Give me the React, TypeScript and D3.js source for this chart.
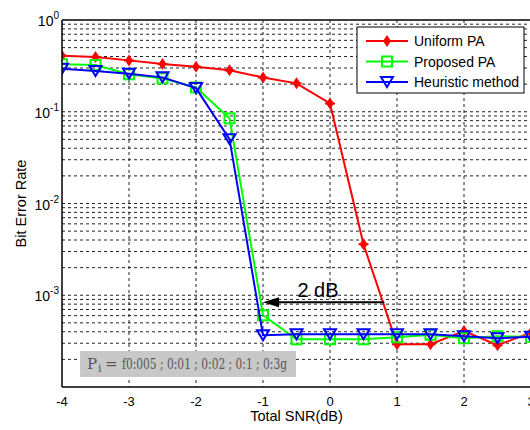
import React from 'react';
import * as d3 from 'd3';

// SNR points (dB)
const snr = [-4, -3.5, -3, -2.5, -2, -1.5, -1, -0.5, 0, 0.5, 1, 1.5, 2, 2.5, 3];

// BER values
const uniformPA = [0.408, 0.395, 0.363, 0.331, 0.31, 0.283, 0.236, 0.204, 0.123, 0.0036,
  0.000292, 0.000292, 0.000408, 0.000285, 0.000392];
const proposedPA = [0.329, 0.323, 0.256, 0.231, 0.184, 0.0847, 0.000605, 0.000331, 0.000331,
  0.000331, 0.000348, 0.000371, 0.00034, 0.000357, 0.000352];
const heuristic = [0.294, 0.278, 0.26, 0.237, 0.181, 0.0503, 0.000366, 0.000376, 0.000376,
  0.000376, 0.000376, 0.000376, 0.000357, 0.00034, 0.000353];

const xTicks = [-4, -3, -2, -1, 0, 1, 2, 3];
const yDecades = [0, -1, -2, -3];
const seriesNames = ['Uniform PA', 'Proposed PA', 'Heuristic method'];
const boxText = 'f0:005 ; 0:01 ; 0:02 ; 0:1 ; 0:3g';

const W = 530;
const H = 430;
const m = { left: 62, right: 531, top: 20, bottom: 387 };

const x = d3.scaleLinear().domain([-4, 3]).range([m.left, m.right]);
const y = d3.scaleLog().domain([1e-4, 1]).range([m.bottom, m.top]);

const line = d3.line<number>()
  .x((_, i) => x(snr[i]))
  .y(d => y(d));

function Marker({ kind, cx, cy, color }: { kind: string; cx: number; cy: number; color: string }) {
  if (kind === 'diamond') {
    return (
      <g>
        <path d={`M${cx},${cy - 6}L${cx + 4},${cy}L${cx},${cy + 6}L${cx - 4},${cy}Z`} fill={color} />
        <line x1={cx - 5} x2={cx + 5} y1={cy} y2={cy} stroke={color} strokeWidth={2} />
      </g>
    );
  }
  if (kind === 'square') {
    return <rect x={cx - 5} y={cy - 5} width={10} height={10} fill="none" stroke={color} strokeWidth={2} />;
  }
  return (
    <path d={`M${cx - 6},${cy - 5}L${cx + 6},${cy - 5}L${cx},${cy + 5}Z`} fill="none" stroke={color} strokeWidth={2} />
  );
}

export default function App() {
  const series = [
    { name: seriesNames[0], data: uniformPA, color: '#ff0000', kind: 'diamond' },
    { name: seriesNames[1], data: proposedPA, color: '#00ff00', kind: 'square' },
    { name: seriesNames[2], data: heuristic, color: '#0000ff', kind: 'tri' },
  ];

  // minor + major gridlines
  const yGrid: number[] = [];
  for (let e = -4; e < 0; e++) {
    for (let k = 1; k <= 9; k++) yGrid.push(k * Math.pow(10, e));
  }

  const arrowY = y(8.4e-4);
  const arrowX1 = x(0.81);
  const arrowX2 = x(-1);

  return (
    <div>
      <style>{`body{margin:0}`}</style>
      <svg width={W} height={H} style={{ display: 'block', background: '#fff' }}
        fontFamily="Arial, 'Liberation Sans', sans-serif">
        <defs>
          <clipPath id="plot">
            <rect x={m.left} y={m.top} width={m.right - m.left} height={m.bottom - m.top} />
          </clipPath>
        </defs>

        {/* grid */}
        <g stroke="#222" strokeWidth={1} strokeDasharray="3,3">
          {yGrid.slice(1).map((v, i) => (
            <line key={'h' + i} x1={m.left} x2={m.right} y1={y(v)} y2={y(v)} />
          ))}
          {xTicks.slice(1).map(t => (
            <line key={'v' + t} x1={x(t)} x2={x(t)} y1={m.top} y2={m.bottom} />
          ))}
        </g>

        {/* series */}
        <g clipPath="url(#plot)">
          {series.map(s => (
            <g key={s.name}>
              <path d={line(s.data) || ''} fill="none" stroke={s.color} strokeWidth={2} />
              {s.data.map((v, i) => (
                <Marker key={i} kind={s.kind} cx={x(snr[i])} cy={y(v)} color={s.color} />
              ))}
            </g>
          ))}
        </g>

        {/* axes */}
        <g stroke="#000" strokeWidth={1.5} fill="none">
          <line x1={m.left} x2={m.left} y1={m.top} y2={m.bottom} />
          <line x1={m.left} x2={m.right} y1={m.bottom} y2={m.bottom} />
          <line x1={m.left} x2={m.right} y1={m.top} y2={m.top} />
        </g>

        {/* x tick labels */}
        <g fontSize={13} textAnchor="middle" fill="#000">
          {xTicks.map(t => (
            <text key={t} x={x(t)} y={406}>{t}</text>
          ))}
        </g>

        {/* y tick labels */}
        <g fontSize={14} textAnchor="end" fill="#000">
          {yDecades.map(e => (
            <text key={e} x={59} y={y(Math.pow(10, e)) + 6}>
              10<tspan dy={-7} fontSize={10}>{e}</tspan>
            </text>
          ))}
        </g>

        <text x={(m.left + m.right) / 2} y={421} textAnchor="middle" fontSize={14.5}>Total SNR(dB)</text>
        <text transform={`translate(26,${(m.top + m.bottom) / 2}) rotate(-90)`} textAnchor="middle" fontSize={14.5}>
          Bit Error Rate
        </text>

        {/* 2 dB annotation */}
        <line x1={arrowX1} x2={arrowX2 + 14} y1={arrowY} y2={arrowY} stroke="#000" strokeWidth={2} />
        <path d={`M${arrowX2},${arrowY}L${arrowX2 + 16},${arrowY - 5}L${arrowX2 + 16},${arrowY + 5}Z`} fill="#000" />
        <text x={318} y={297} textAnchor="middle" fontSize={20}>2 dB</text>

        {/* Pi box */}
        <rect x={80} y={351} width={216} height={26} fill="#c8c8c8" />
        <g fontFamily="'DejaVu Serif', 'Liberation Serif', serif" fill="#555">
          <text x={87} y={369} fontSize={15}>P</text>
          <text x={98} y={372} fontSize={11}>i</text>
          <text x={105} y={369} fontSize={15}>=</text>
          <text x={122} y={369} fontSize={15} textLength={165} lengthAdjust="spacingAndGlyphs">{boxText}</text>
        </g>

        {/* legend */}
        <rect x={357} y={27} width={167} height={66} fill="#fff" stroke="#000" strokeWidth={1} />
        {series.map((s, i) => {
          const ly = 41 + i * 20.5;
          return (
            <g key={s.name}>
              <line x1={366} x2={408} y1={ly} y2={ly} stroke={s.color} strokeWidth={2} />
              <Marker kind={s.kind} cx={387} cy={ly} color={s.color} />
              <text x={414} y={ly + 5} fontSize={14}>{s.name}</text>
            </g>
          );
        })}
      </svg>
    </div>
  );
}
